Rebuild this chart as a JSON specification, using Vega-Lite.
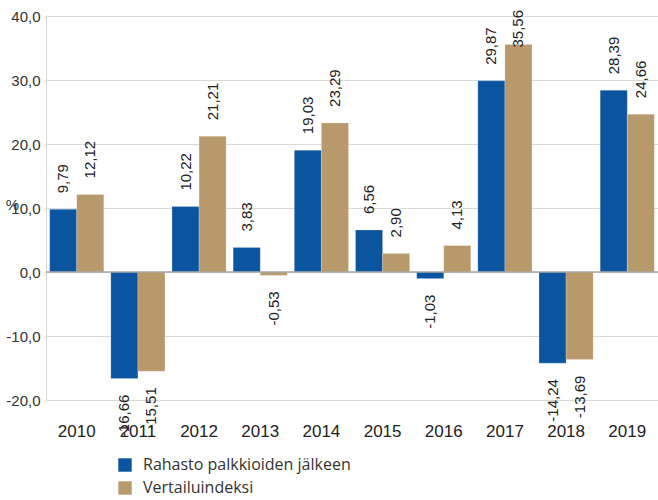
{
  "$schema": "https://vega.github.io/schema/vega-lite/v6.json",
  "width": 612,
  "height": 384,
  "autosize": {"type": "none"},
  "padding": {"left": 46, "top": 16, "right": 0, "bottom": 100},
  "background": "white",
  "config": {
    "view": {"stroke": null},
    "locale": {"number": {"decimal": ",", "thousands": " ", "grouping": [3], "currency": ["", " €"], "minus": "-"}},
    "font": "Liberation Sans"
  },
  "data": {
    "values": [
      {"year": "2010", "series": "Rahasto palkkioiden jälkeen", "v": 9.79},
      {"year": "2010", "series": "Vertailuindeksi", "v": 12.12},
      {"year": "2011", "series": "Rahasto palkkioiden jälkeen", "v": -16.66},
      {"year": "2011", "series": "Vertailuindeksi", "v": -15.51},
      {"year": "2012", "series": "Rahasto palkkioiden jälkeen", "v": 10.22},
      {"year": "2012", "series": "Vertailuindeksi", "v": 21.21},
      {"year": "2013", "series": "Rahasto palkkioiden jälkeen", "v": 3.83},
      {"year": "2013", "series": "Vertailuindeksi", "v": -0.53},
      {"year": "2014", "series": "Rahasto palkkioiden jälkeen", "v": 19.03},
      {"year": "2014", "series": "Vertailuindeksi", "v": 23.29},
      {"year": "2015", "series": "Rahasto palkkioiden jälkeen", "v": 6.56},
      {"year": "2015", "series": "Vertailuindeksi", "v": 2.90},
      {"year": "2016", "series": "Rahasto palkkioiden jälkeen", "v": -1.03},
      {"year": "2016", "series": "Vertailuindeksi", "v": 4.13},
      {"year": "2017", "series": "Rahasto palkkioiden jälkeen", "v": 29.87},
      {"year": "2017", "series": "Vertailuindeksi", "v": 35.56},
      {"year": "2018", "series": "Rahasto palkkioiden jälkeen", "v": -14.24},
      {"year": "2018", "series": "Vertailuindeksi", "v": -13.69},
      {"year": "2019", "series": "Rahasto palkkioiden jälkeen", "v": 28.39},
      {"year": "2019", "series": "Vertailuindeksi", "v": 24.66}
    ]
  },
  "encoding": {
    "x": {
      "field": "year", "type": "nominal",
      "scale": {"paddingInner": 0.115, "paddingOuter": 0.06},
      "axis": {"title": null, "labelAngle": 0, "domain": false, "ticks": false, "labelFontSize": 17, "labelColor": "#222222", "labelPadding": 23, "labelFont": "Liberation Sans"}
    },
    "xOffset": {"field": "series", "type": "nominal", "sort": ["Rahasto palkkioiden jälkeen", "Vertailuindeksi"]}
  },
  "layer": [
    {
      "mark": {"type": "bar", "stroke": "#ffffff", "strokeWidth": 0.5, "strokeOpacity": 0.4},
      "encoding": {
        "y": {
          "field": "v", "type": "quantitative",
          "scale": {"domain": [-20, 40], "nice": false},
          "axis": {
            "title": "%", "titleAngle": 0, "titleX": -34, "titleY": 196, "titleFontSize": 15, "titleFontWeight": "normal", "titleColor": "#333333",
            "values": [-20, -10, 0, 10, 20, 30, 40], "format": ".1f", "labelOverlap": false,
            "labelFontSize": 15, "labelColor": "#333333", "labelPadding": 6,
            "ticks": false, "domain": true, "domainColor": "#d9d9d9", "gridColor": "#d9d9d9", "grid": true
          }
        },
        "color": {
          "field": "series", "type": "nominal",
          "scale": {"domain": ["Rahasto palkkioiden jälkeen", "Vertailuindeksi"], "range": ["#0b549f", "#b8996b"]},
          "legend": {
            "title": null, "orient": "none", "legendX": 71, "legendY": 441, "direction": "vertical",
            "symbolType": "square", "symbolSize": 180, "symbolStrokeWidth": 0, "labelLimit": 0,
            "labelFontSize": 16, "labelColor": "#333333", "labelFont": "Open Sans", "rowPadding": 7, "padding": 0, "labelOffset": 10
          }
        }
      }
    },
    {
      "mark": {"type": "rule", "color": "#a6a6a6", "strokeWidth": 1.5},
      "data": {"values": [{"z": 0}]},
      "encoding": {"y": {"field": "z", "type": "quantitative"}, "x": {"value": 0}, "x2": {"value": 612}, "xOffset": null}
    },
    {
      "transform": [{"filter": "datum.v >= 0 && datum.v < 33"}],
      "mark": {"type": "text", "angle": 270, "align": "left", "baseline": "middle", "dx": 16, "fontSize": 15, "color": "#222222"},
      "encoding": {
        "y": {"field": "v", "type": "quantitative"},
        "text": {"field": "v", "type": "quantitative", "format": ".2f"}
      }
    },
    {
      "transform": [{"filter": "datum.v >= 33"}],
      "mark": {"type": "text", "angle": 270, "align": "right", "baseline": "middle", "dx": 6, "fontSize": 15, "color": "#222222"},
      "encoding": {
        "y": {"datum": 40, "type": "quantitative"},
        "text": {"field": "v", "type": "quantitative", "format": ".2f"}
      }
    },
    {
      "transform": [{"filter": "datum.v < 0"}],
      "mark": {"type": "text", "angle": 270, "align": "right", "baseline": "middle", "dx": -16, "fontSize": 15, "color": "#222222"},
      "encoding": {
        "y": {"field": "v", "type": "quantitative"},
        "text": {"field": "v", "type": "quantitative", "format": ".2f"}
      }
    }
  ]
}
